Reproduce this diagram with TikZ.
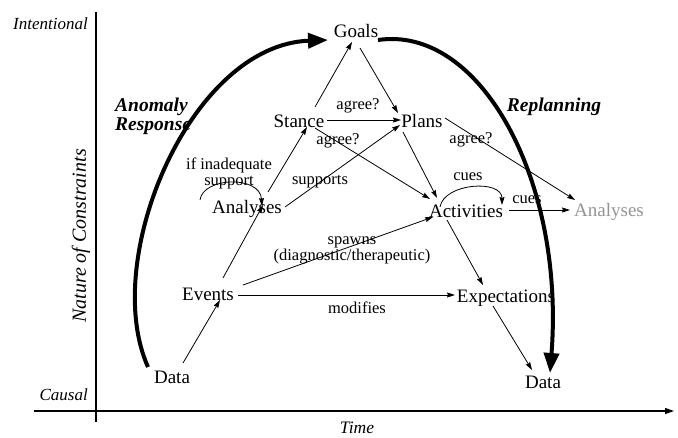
\documentclass[tikz,border=0pt]{standalone}
\usepackage{fontspec}
\setmainfont{Liberation Serif}
\usetikzlibrary{arrows.meta}

\begin{document}
\begin{tikzpicture}[x=1pt,y=-1pt,
  concept/.style={inner sep=0pt,anchor=base,font=\fontsize{19}{21}\selectfont},
  lbl/.style={inner sep=0pt,font=\fontsize{16.5}{16}\selectfont,align=center},
  axislbl/.style={inner sep=0pt,font=\fontsize{17}{18}\selectfont\itshape},
  phase/.style={inner sep=0pt,font=\fontsize{19.5}{19}\selectfont\bfseries\itshape,align=left},
  link/.style={line width=0.8pt,-{Stealth[length=8pt,width=5pt,inset=1pt]}},
  sweep/.style={line width=4pt,-{Triangle[length=20pt,width=15pt]}},
  axis/.style={line width=1.2pt}]

\useasboundingbox (0,0) rectangle (678,437);

% axes
\coordinate (yTop) at (96,12);
\coordinate (yBot) at (96,422);
\coordinate (xLeft) at (34,411);
\coordinate (xRight) at (674,411);
\draw[axis] (yTop) -- (yBot);
\draw[axis,-{Triangle[length=9pt,width=6pt]}] (xLeft) -- (xRight);

\node[axislbl,anchor=east] (intent) at (88,24) {Intentional};
\node[axislbl,anchor=east] (causal) at (88,395) {Causal};
\node[axislbl,anchor=base,font=\fontsize{17.5}{18}\selectfont\itshape] (time) at (357,433) {Time};
\node[axislbl,rotate=90,font=\fontsize{20}{20}\selectfont\itshape] (nature) at (81,236) {Nature of Constraints};

% concepts
\node[concept] (goals)  at (356,37)  {Goals};
\node[concept] (stance) at (299,127) {Stance};
\node[concept] (plans)  at (422,127) {Plans};
\node[concept] (anaL)   at (247,213) {Analyses};
\node[concept] (acts)   at (466,217) {Activities};
\node[concept,text=black!42] (anaR) at (609,216) {Analyses};
\node[concept] (events) at (208,300) {Events};
\node[concept] (expect) at (506,302) {Expectations};
\node[concept] (dataL)  at (172,383) {Data};
\node[concept] (dataR)  at (543,388) {Data};

% phase labels
\node[phase,anchor=west] (anomaly) at (115,116) {Anomaly\\Response};
\node[phase] (replan) at (554,107) {Replanning};

% links
\draw[link] ([shift={(11,-20)}]dataL.base) -- ([shift={(12,0)}]events.base);
\draw[link] ([shift={(15,-22)}]events.base) -- ([shift={(16,-8)}]anaL.base);
\draw[link] ([shift={(21,-21)}]anaL.base) -- ([shift={(8,0)}]stance.base);
\draw[link] ([shift={(38,-6)}]anaL.base) -- ([shift={(-22,-2)}]plans.base);
\draw[link] ([shift={(16,-20)}]stance.base) -- ([shift={(-4,5)}]goals.base);
\draw[link] ([shift={(4,11)}]goals.base) -- ([shift={(-24,-14)}]plans.base);
\draw[link] ([shift={(28,-7)}]stance.base) -- ([shift={(-21,-7)}]plans.base);
\draw[link] ([shift={(16,1)}]stance.base) -- ([shift={(-36,-18)}]acts.base);
\draw[link] ([shift={(-19,5)}]plans.base) -- ([shift={(-29,-19)}]acts.base);
\draw[link] ([shift={(23,-9)}]plans.base) -- ([shift={(-34,-16)}]anaR.base);
\draw[link] ([shift={(43,-7)}]acts.base) -- ([shift={(-39,-6)}]anaR.base);
\draw[link] ([shift={(35,-15)}]events.base) -- ([shift={(-33,0)}]acts.base);
\draw[link] ([shift={(30,-5)}]events.base) -- ([shift={(-51,-7)}]expect.base);
\draw[link] ([shift={(-19,3)}]acts.base) -- ([shift={(-23,-17)}]expect.base);
\draw[link] ([shift={(-13,4)}]expect.base) -- ([shift={(-11,-18)}]dataR.base);

% self loops
\draw[link] ([shift={(-47,-13)}]anaL.base)
  .. controls ([shift={(-44,-36)}]anaL.base) and ([shift={(13,-38)}]anaL.base)
  .. ([shift={(15,-7)}]anaL.base);
\draw[link] ([shift={(-26,-10)}]acts.base)
  .. controls ([shift={(-22,-34)}]acts.base) and ([shift={(36,-38)}]acts.base)
  .. ([shift={(36,-12)}]acts.base);

% link labels
\node[lbl] (l1) at (358,106) {agree?};
\node[lbl] (l2) at (338,141) {agree?};
\node[lbl] (l3) at (471,140) {agree?};
\node[lbl] (l4) at (320,182) {supports};
\node[lbl] (l5) at (229,173) {if inadequate\\support};
\node[lbl] (l6) at (468,177) {cues};
\node[lbl] (l7) at (527,200) {cues};
\node[lbl] (l8) at (352,250) {spawns\\(diagnostic/therapeutic)};
\node[lbl] (l9) at (357,308) {modifies};

% phase sweeps
\draw[sweep] ([shift={(-24,-16)}]dataL.base)
  .. controls (100,260) and (190,45) .. ([shift={(-28,3)}]goals.base);
\draw[sweep] ([shift={(22,3)}]goals.base)
  .. controls (480,25) and (565,180) .. ([shift={(7,-15)}]dataR.base);

\end{tikzpicture}
\end{document}
